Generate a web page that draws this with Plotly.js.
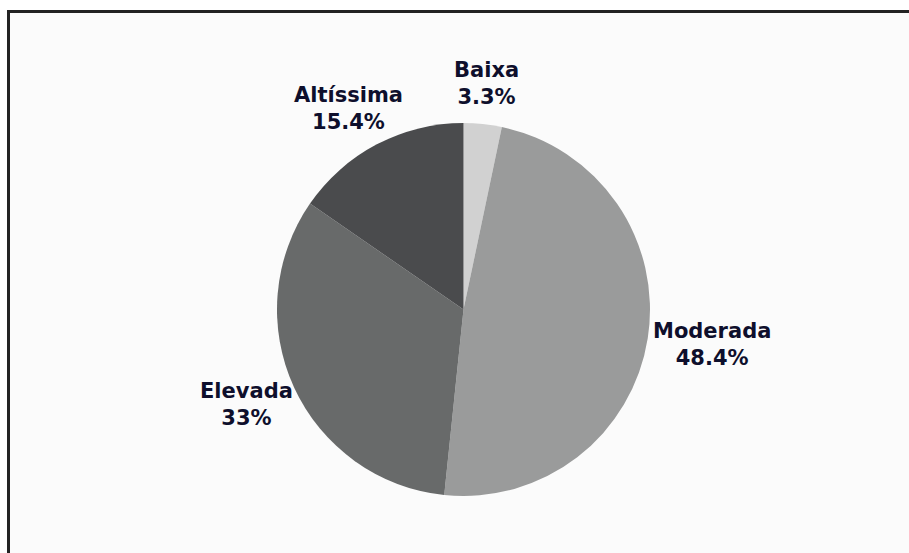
<!DOCTYPE html>
<html>
<head>
<meta charset="utf-8">
<script src="https://cdn.plot.ly/plotly-3.0.1.min.js"></script>
<style>
  html, body { margin: 0; padding: 0; background: #ffffff; }
  #chart { width: 909px; height: 553px; }
</style>
</head>
<body>
<div id="chart"></div>
<script>
const categories = ["Baixa", "Moderada", "Elevada", "Altíssima"];
const values = [3.3, 48.4, 33, 15.4];
const sliceColors = ["#d1d1d1", "#9a9b9b", "#686a6a", "#4a4b4d"];

const W = 909, H = 553;
const mL = 277, mR = 259, mT = 123, mB = 57;
const pw = W - mL - mR, ph = H - mT - mB;
const px = x => (x - mL) / pw;
const py = y => (H - mB - y) / ph;

const fontSize = 21;
const fontFamily = "'DejaVu Sans', sans-serif";
const labelFont = { family: fontFamily, size: fontSize, color: "#0e0f2c", weight: 700 };

const trace = {
  type: "pie",
  labels: categories,
  values: values,
  sort: false,
  direction: "clockwise",
  rotation: 0,
  marker: { colors: sliceColors, line: { width: 0 } },
  textinfo: "none",
  automargin: false,
  showlegend: false,
  hoverinfo: "label+value"
};

// label boxes placed just outside the rim along each slice's mid-angle
const ctx = document.createElement("canvas").getContext("2d");
ctx.font = "700 " + fontSize + "px " + fontFamily;
const total = values.reduce((a, b) => a + b, 0);
const cx = mL + pw / 2, cy = mT + ph / 2, R = Math.min(pw, ph) / 2;
const gap = 6;
let cum = 0;
const annotations = categories.map((c, i) => {
  const mid = (cum + values[i] / 2) / total * 2 * Math.PI;
  cum += values[i];
  const lines = [c, values[i] + "%"];
  const w = Math.max(...lines.map(t => ctx.measureText(t).width));
  const h = 2.2 * fontSize;
  const s = Math.sin(mid), co = Math.cos(mid);
  const x = cx + (R + gap) * s + (w / 2) * s;
  const y = cy - (R + gap) * co - 0.75 * h * co;
  return {
    xref: "paper", yref: "paper",
    x: px(x), y: py(y),
    xanchor: "center", yanchor: "middle",
    showarrow: false,
    text: lines.join("<br>"),
    font: labelFont
  };
});

const layout = {
  width: W,
  height: H,
  margin: { l: mL, r: mR, t: mT, b: mB },
  paper_bgcolor: "#ffffff",
  showlegend: false,
  annotations: annotations,
  shapes: [{
    type: "rect",
    xref: "paper", yref: "paper",
    x0: px(8.5), x1: px(940),
    y0: py(600), y1: py(11.5),
    line: { color: "#232323", width: 3 },
    fillcolor: "#fbfbfb",
    layer: "below"
  }]
};

Plotly.newPlot("chart", [trace], layout, { displayModeBar: false, staticPlot: true });
</script>
</body>
</html>
